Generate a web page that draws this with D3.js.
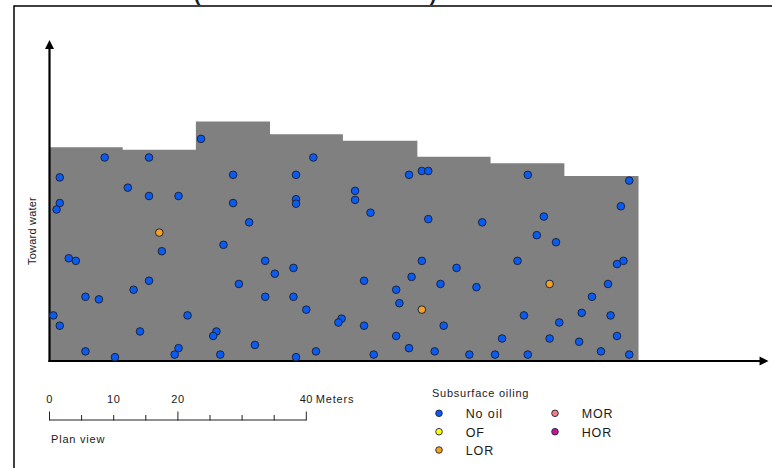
<!DOCTYPE html>
<html><head><meta charset="utf-8">
<script src="https://cdn.jsdelivr.net/npm/d3@7"></script>
<style>
body{margin:0;background:#fff}
svg{display:block}
text{font-family:"Liberation Sans",Arial,sans-serif;fill:#1a1a1a}
</style>
</head><body>
<svg id="chart" width="772" height="468"></svg>
<script>
// ---- data (meters; x = along shore, y = toward water) ----
const segmentEdges = [0, 11.4, 22.8, 34.35, 45.7, 57.3, 68.7, 80.2, 91.75];
const segmentHeights = [33.3, 32.9, 37.3, 35.3, 34.3, 31.8, 30.8, 28.8];

const noOil = [
  [8.6,31.7],[15.5,31.7],[1.6,28.6],[12.2,27.0],[15.5,25.7],[20.1,25.7],[1.6,24.6],[1.1,23.6],
  [17.5,17.1],[3.0,16.0],[4.1,15.6],[15.5,12.5],[13.1,11.1],[5.6,10.0],[7.7,9.6],[0.6,7.1],
  [21.5,7.1],[1.6,5.5],[14.1,4.6],[5.6,1.5],[10.2,0.6],[20.1,2.0],[19.5,1.0],
  [23.6,34.6],[41.1,31.7],[28.6,29.0],[38.4,29.0],[28.6,24.6],[38.4,25.2],[38.4,24.5],[31.1,21.6],
  [27.1,18.1],[33.6,15.6],[38.0,14.5],[35.1,13.6],[29.5,12.0],[33.6,10.0],[38.0,10.0],[40.0,8.0],
  [26.0,4.6],[25.5,3.9],[32.0,2.5],[26.6,1.0],[38.4,0.6],[41.5,1.5],
  [56.0,29.0],[58.0,29.6],[59.0,29.6],[47.6,26.5],[47.6,25.1],[50.0,23.1],[59.0,22.1],[67.4,21.6],
  [58.0,15.6],[63.4,14.5],[56.4,13.1],[49.0,12.5],[60.9,12.0],[66.5,11.5],[54.0,11.1],[54.5,9.0],
  [45.5,6.6],[45.0,6.0],[49.0,5.5],[61.4,5.5],[54.0,3.9],[56.0,2.0],[50.5,1.0],[60.0,1.5],[65.4,1.0],
  [74.5,29.0],[90.3,28.1],[89.0,24.1],[77.0,22.5],[75.9,19.6],[78.9,18.5],[72.9,15.6],[88.4,15.1],
  [89.4,15.6],[87.0,12.0],[84.5,10.0],[82.9,7.5],[73.9,7.1],[87.4,7.1],[79.4,6.0],[70.5,3.5],
  [77.9,3.5],[82.5,3.0],[88.4,3.9],[69.4,1.0],[74.5,1.0],[85.9,1.5],[90.3,1.0]
];
const ofPts = [];
const lor = [[17.1,20.0],[58.0,8.0],[77.9,12.0]];
const mor = [];
const hor = [];

const legendTitle = "Subsurface oiling";
const legendLabels = ["No oil", "OF", "LOR", "MOR", "HOR"];
const legendColors = ["#0a5cf0", "#ffff00", "#f5a21e", "#f08080", "#cc1199"];

const scaleTicks = [0, 5, 10, 15, 20, 25, 30, 35, 40];
const scaleMajor = [0, 20, 40];
const scaleLabels = ["0", "10", "20", "40"];
const scaleLabelVals = [0, 10, 20, 40];

// ---- drawing ----
const svg = d3.select("#chart");
const x = d3.scaleLinear().domain([0, 40]).range([49.5, 306.3]);
const y = d3.scaleLinear().domain([0, 50]).range([361, 40]);

// frame
svg.append("path").attr("d", "M14,468 V6 H772").attr("fill", "none")
  .attr("stroke", "#000").attr("stroke-width", 1.5);

// cut-off title parentheses (the reference shows only their lower tails)
svg.append("text").attr("x", 197).attr("y", 1).attr("font-size", 20).attr("font-weight", "bold")
  .attr("text-anchor", "middle").text("(");
svg.append("text").attr("x", 433).attr("y", 1).attr("font-size", 20).attr("font-weight", "bold")
  .attr("text-anchor", "middle").text(")");

// gray segments (stepped)
const stepData = segmentEdges.map((e, i) => [e, segmentHeights[Math.min(i, segmentHeights.length - 1)]]);
const area = d3.area().x(d => x(d[0])).y0(y(0)).y1(d => y(d[1])).curve(d3.curveStepAfter);
svg.append("path").datum(stepData).attr("d", area).attr("fill", "#808080");

// axes with arrows
const ax = svg.append("g");
ax.append("line").attr("x1", x(0)).attr("x2", x(0)).attr("y1", y(0) + 1).attr("y2", y(50) + 7)
  .attr("stroke", "#000").attr("stroke-width", 2.2);
ax.append("path").attr("d", `M${x(0)},${y(50)} L${x(0) - 4.5},${y(50) + 9} L${x(0) + 4.5},${y(50) + 9} Z`).attr("fill", "#000");
ax.append("line").attr("x1", x(0) - 1).attr("x2", x(112) - 7).attr("y1", y(0)).attr("y2", y(0))
  .attr("stroke", "#000").attr("stroke-width", 2.2);
ax.append("path").attr("d", `M${x(112)},${y(0)} L${x(112) - 9},${y(0) - 4.5} L${x(112) - 9},${y(0) + 4.5} Z`).attr("fill", "#000");

// y axis label
svg.append("text").attr("transform", "translate(35.5,231) rotate(-90)")
  .attr("text-anchor", "middle").attr("font-size", 11).attr("letter-spacing", 0.2)
  .text("Toward water");

// points
const pts = svg.append("g");
function drawPts(data, color) {
  pts.selectAll(null).data(data).enter().append("circle")
    .attr("cx", d => x(d[0])).attr("cy", d => y(d[1])).attr("r", 3.8)
    .attr("fill", color).attr("stroke", "#1a2340").attr("stroke-width", 1);
}
drawPts(noOil, legendColors[0]);
drawPts(ofPts, legendColors[1]);
drawPts(lor, legendColors[2]);
drawPts(mor, legendColors[3]);
drawPts(hor, legendColors[4]);

// scale bar
const sb = svg.append("g");
const sbY = 420;
sb.append("line").attr("x1", x(0)).attr("x2", x(40)).attr("y1", sbY).attr("y2", sbY)
  .attr("stroke", "#222").attr("stroke-width", 1);
sb.selectAll(null).data(scaleTicks).enter().append("line")
  .attr("x1", d => x(d)).attr("x2", d => x(d))
  .attr("y1", d => scaleMajor.includes(d) ? sbY - 8.5 : sbY - 5).attr("y2", sbY + 0.5)
  .attr("stroke", "#222").attr("stroke-width", 1);
sb.selectAll(null).data(scaleLabels).enter().append("text")
  .attr("x", (d, i) => x(scaleLabelVals[i])).attr("y", 403)
  .attr("text-anchor", "middle").attr("font-size", 11).attr("letter-spacing", 0.5).text(d => d);
sb.append("text").attr("x", x(40) + 9.5).attr("y", 403).attr("font-size", 11).attr("letter-spacing", 0.8).text("Meters");
sb.append("text").attr("x", 51).attr("y", 443).attr("font-size", 11).attr("letter-spacing", 0.8).text("Plan view");

// legend
const lg = svg.append("g");
lg.append("text").attr("x", 432).attr("y", 397).attr("font-size", 11).attr("letter-spacing", 0.75).text(legendTitle);
const legendPos = [[439, 413.3], [439, 431.7], [439, 450], [555, 413.3], [555, 431.7]];
legendLabels.forEach((lab, i) => {
  const [lx, ly] = legendPos[i];
  lg.append("circle").attr("cx", lx).attr("cy", ly).attr("r", 3.3)
    .attr("fill", legendColors[i]).attr("stroke", "#1a2340").attr("stroke-width", 0.9);
  lg.append("text").attr("x", lx + 26.7).attr("y", ly + 5).attr("font-size", 12.5)
    .attr("letter-spacing", 0.9).text(lab);
});
</script>
</body></html>
